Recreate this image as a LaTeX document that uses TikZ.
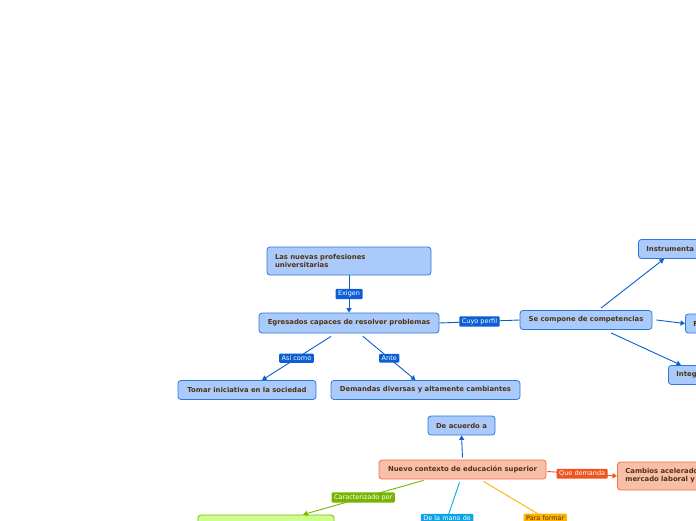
\documentclass[tikz,border=0pt]{standalone}
\usepackage{fontspec}
\setmainfont{DejaVu Sans}
\usetikzlibrary{arrows.meta}
\definecolor{bfill}{HTML}{A9CAFB}
\definecolor{bborder}{HTML}{2F78DA}
\definecolor{tbrown}{HTML}{4E3214}
\definecolor{lblue}{HTML}{0B5ED3}
\definecolor{sfill}{HTML}{F9BEA8}
\definecolor{sborder}{HTML}{F0704A}
\definecolor{qorange}{HTML}{F0531F}
\definecolor{gfill}{HTML}{CCFF8C}
\definecolor{gborder}{HTML}{7DBA0A}
\definecolor{glab}{HTML}{78B400}
\definecolor{clab}{HTML}{0AA3E8}
\definecolor{ylab}{HTML}{FFB400}
\tikzset{
  box/.style={draw=bborder, fill=bfill, rounded corners=3pt, line width=0.8pt,
    font=\fontsize{6.85}{8.2}\selectfont\bfseries, text=tbrown, inner sep=0pt, minimum height=19pt},
  salbox/.style={box, draw=sborder, fill=sfill},
  greenbox/.style={box, draw=gborder, fill=gfill},
  lab/.style={fill=lblue, text=white, font=\fontsize{6.5}{7.5}\selectfont, inner xsep=2.5pt,
    inner ysep=2pt, rounded corners=1pt},
  conn/.style={draw=lblue, line width=0.9pt},
  arr/.style={-{Triangle[width=5pt,length=4.5pt]}},
}
\begin{document}
\begin{tikzpicture}[x=1pt,y=-1pt]
\useasboundingbox (0,0) rectangle (696,520);
\fill[white] (0,0) rectangle (696,520);
\clip (0,0) rectangle (696,520);

% blue nodes
\node[box, minimum width=164pt, minimum height=28pt, text width=148pt, align=left] (prof) at (349,261) {Las nuevas profesiones\\universitarias};
\node[box, minimum width=180pt, minimum height=20pt] (egr) at (349,323) {Egresados capaces de resolver problemas};
\node[box, minimum width=132pt] (comp) at (586,320) {Se compone de competencias};
\node[box, anchor=west, minimum width=100pt, text width=84pt, align=left] (instr) at (638,249) {Instrumenta};
\node[box, anchor=west, minimum width=60pt, text width=44pt, align=left] (fbox) at (685,323.5) {F};
\node[box, anchor=west, minimum width=60pt, text width=44pt, align=left] (integ) at (668,375) {Integ};
\node[box, minimum width=138pt] (tomar) at (247,390) {Tomar iniciativa en la sociedad};
\node[box, minimum width=189pt] (dem) at (425.5,390) {Demandas diversas y altamente cambiantes};
\node[box, minimum width=67pt] (acuerdo) at (461.5,425.5) {De acuerdo a};

% salmon nodes
\node[salbox, minimum width=167pt] (nuevo) at (462.5,469.5) {Nuevo contexto de educación superior};
\node[salbox, anchor=west, minimum width=100pt, minimum height=28pt, text width=84pt, align=left] (cambios) at (617,476) {Cambios acelerados\\mercado laboral y};

% green node
\node[greenbox, minimum width=136pt, minimum height=20pt] (green) at (266,525) {};

% off-picture ends
\coordinate (mano) at (437,548);
\coordinate (pform) at (607,555);

% blue connectors
\draw[conn, arr] (prof.south) -- node[lab]{Exigen} (egr.north);
\draw[conn] (egr.east) -- node[lab]{Cuyo perfil} (comp.west);
\draw[conn, arr] ([xshift=-18pt,yshift=-3pt]egr.south) -- node[lab]{Así como} ([xshift=15pt]tomar.north);
\draw[conn, arr] ([xshift=14pt,yshift=-3pt]egr.south) -- node[lab]{Ante} ([xshift=-10pt]dem.north);
\draw[conn, arr] ([xshift=15pt,yshift=2pt]comp.north) -- ([xshift=26pt]instr.south west);
\draw[conn, arr] ([xshift=4pt]comp.east) -- (fbox.west);
\draw[conn, arr] ([xshift=25pt,yshift=-3pt]comp.south) -- ([xshift=13pt]integ.north west);
\draw[conn, arr] ([yshift=2pt]nuevo.north) -- (acuerdo.south);

% coloured connectors
\draw[conn, draw=qorange, arr] ([xshift=1pt,yshift=-2pt]nuevo.east) -- node[lab, fill=qorange]{Que demanda} (cambios.west);
\draw[conn, draw=glab, arr] ([xshift=-39pt,yshift=-1pt]nuevo.south) -- node[lab, fill=glab]{Caracterizado por} ([xshift=37pt]green.north);
\draw[conn, draw=clab] ([xshift=-3pt,yshift=-3pt]nuevo.south) -- node[lab, fill=clab, pos=0.55]{De la mano de} (mano);
\draw[conn, draw=ylab] ([xshift=21pt,yshift=-2pt]nuevo.south) -- node[lab, fill=ylab, text=tbrown]{Para formar} (pform);
\end{tikzpicture}
\end{document}
